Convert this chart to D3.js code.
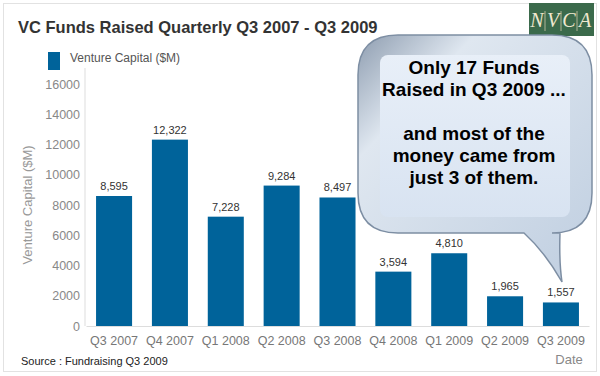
<!DOCTYPE html>
<html>
<head>
<meta charset="utf-8">
<script src="https://cdn.jsdelivr.net/npm/d3@7"></script>
<style>
  body { margin: 0; background: #fff; }
  svg { font-family: "Liberation Sans", Arial, sans-serif; }
</style>
</head>
<body>
<div id="chart"></div>
<script>
// chart data
const quarters = ["Q3 2007", "Q4 2007", "Q1 2008", "Q2 2008", "Q3 2008", "Q4 2008", "Q1 2009", "Q2 2009", "Q3 2009"];
const fundsRaised = [8595, 12322, 7228, 9284, 8497, 3594, 4810, 1965, 1557];
const yTicks = [0, 2000, 4000, 6000, 8000, 10000, 12000, 14000, 16000];
const calloutLines = ["Only 17 Funds", "Raised in Q3 2009 ...", "", "and most of the", "money came from", "just 3 of them."];

const W = 600, H = 376;
const margin = { top: 84, right: 11, bottom: 50, left: 86 };
const width = W - margin.left - margin.right;
const height = H - margin.top - margin.bottom;

const svg = d3.select("#chart").append("svg")
    .attr("width", W)
    .attr("height", H);

const defs = svg.append("defs");

// outer frame
svg.append("rect")
    .attr("x", 3.5).attr("y", 3.5)
    .attr("width", W - 7).attr("height", H - 8)
    .attr("fill", "#fff")
    .attr("stroke", "#e2e2e2");

// title
svg.append("text")
    .attr("x", 18).attr("y", 33)
    .attr("font-size", "16.5px")
    .attr("font-weight", "bold")
    .attr("fill", "#333")
    .text("VC Funds Raised Quarterly Q3 2007 - Q3 2009");

// legend
svg.append("rect")
    .attr("x", 48).attr("y", 52)
    .attr("width", 12).attr("height", 18)
    .attr("fill", "#00639a");
svg.append("text")
    .attr("x", 70).attr("y", 62)
    .attr("font-size", "12px")
    .attr("fill", "#555")
    .text("Venture Capital ($M)");

// NVCA logo
const logo = svg.append("g").attr("transform", "translate(529,3)");
logo.append("rect")
    .attr("width", 65).attr("height", 33)
    .attr("fill", "#3b6a4b");
["N", "V", "C", "A"].forEach((ch, i) => {
    logo.append("text")
        .attr("x", 8 + i * 16).attr("y", 24)
        .attr("text-anchor", "middle")
        .attr("font-family", "'Liberation Serif', serif")
        .attr("font-style", "italic")
        .attr("font-size", "20px")
        .attr("fill", "#efe8cf")
        .text(ch);
    if (i > 0) {
        logo.append("line")
            .attr("x1", i * 16).attr("x2", i * 16)
            .attr("y1", 8).attr("y2", 28)
            .attr("stroke", "#cfc8a8")
            .attr("stroke-width", 0.8);
    }
});

const g = svg.append("g")
    .attr("transform", `translate(${margin.left},${margin.top})`);

// scales
const x = d3.scaleBand()
    .domain(quarters)
    .range([0, width])
    .paddingInner(0.355)
    .paddingOuter(0.18);

const y = d3.scaleLinear()
    .domain([0, 16000])
    .range([height, 0]);

// y axis
const yAxis = g.append("g")
    .call(d3.axisLeft(y).tickValues(yTicks).tickSize(0).tickPadding(6).tickFormat(d3.format("d")));
yAxis.select(".domain").remove();
yAxis.selectAll("text")
    .attr("font-size", "12.5px")
    .attr("fill", "#888")
    .attr("font-family", "'Liberation Sans', Arial, sans-serif");

g.append("line")
    .attr("x1", -1).attr("x2", -1)
    .attr("y1", -16).attr("y2", height)
    .attr("stroke", "#ddd");

// x axis
const xAxis = g.append("g")
    .attr("transform", `translate(0,${height})`)
    .call(d3.axisBottom(x).tickSize(0).tickPadding(10));
xAxis.select(".domain").attr("stroke", "#ddd");
xAxis.selectAll("text")
    .attr("font-size", "12.5px")
    .attr("fill", "#777")
    .attr("font-family", "'Liberation Sans', Arial, sans-serif");

// axis titles
g.append("text")
    .attr("transform", "rotate(-90)")
    .attr("x", -height / 2).attr("y", -54)
    .attr("text-anchor", "middle")
    .attr("font-size", "13px")
    .attr("fill", "#999")
    .text("Venture Capital ($M)");

svg.append("text")
    .attr("x", 569).attr("y", 364)
    .attr("text-anchor", "middle")
    .attr("font-size", "13px")
    .attr("fill", "#888")
    .text("Date");

svg.append("text")
    .attr("x", 21).attr("y", 365)
    .attr("font-size", "11px")
    .attr("fill", "#222")
    .text("Source : Fundraising Q3 2009");

// bars
g.selectAll(".bar")
    .data(fundsRaised)
    .enter()
    .append("rect")
    .attr("class", "bar")
    .attr("x", (d, i) => x(quarters[i]))
    .attr("y", d => y(d))
    .attr("width", x.bandwidth())
    .attr("height", d => height - y(d))
    .attr("fill", "#00639a");

// bar labels
g.selectAll(".bar-label")
    .data(fundsRaised)
    .enter()
    .append("text")
    .attr("class", "bar-label")
    .attr("x", (d, i) => x(quarters[i]) + x.bandwidth() / 2)
    .attr("y", d => y(d) - 6)
    .attr("text-anchor", "middle")
    .attr("font-size", "11px")
    .attr("fill", "#333")
    .text(d => d3.format(",")(d));

// callout bubble
const outerGrad = defs.append("linearGradient")
    .attr("id", "bubbleOuter")
    .attr("x1", 0).attr("y1", 0).attr("x2", 1).attr("y2", 1);
outerGrad.append("stop").attr("offset", "0%").attr("stop-color", "#8e9db0");
outerGrad.append("stop").attr("offset", "25%").attr("stop-color", "#dfe7f0");
outerGrad.append("stop").attr("offset", "100%").attr("stop-color", "#bfcee0");

const innerGrad = defs.append("linearGradient")
    .attr("id", "bubbleInner")
    .attr("x1", 0).attr("y1", 0).attr("x2", 0).attr("y2", 1);
innerGrad.append("stop").attr("offset", "0%").attr("stop-color", "#e8eff8");
innerGrad.append("stop").attr("offset", "100%").attr("stop-color", "#d8e3f1");

const bx0 = 358, bx1 = 592, by0 = 35, by1 = 233, r = 40;
const bubble = d3.path();
bubble.moveTo(bx0 + r, by0);
bubble.lineTo(bx1 - r, by0);
bubble.quadraticCurveTo(bx1, by0, bx1, by0 + r);
bubble.lineTo(bx1, by1 - r);
bubble.quadraticCurveTo(bx1, by1, bx1 - r, by1);
bubble.lineTo(560, by1);
bubble.quadraticCurveTo(559, 262, 562, 282);
bubble.quadraticCurveTo(545, 252, 524, by1);
bubble.lineTo(bx0 + r, by1);
bubble.quadraticCurveTo(bx0, by1, bx0, by1 - r);
bubble.lineTo(bx0, by0 + r);
bubble.quadraticCurveTo(bx0, by0, bx0 + r, by0);
bubble.closePath();

svg.append("path")
    .attr("d", bubble.toString())
    .attr("fill", "url(#bubbleOuter)")
    .attr("stroke", "#7d8ea3")
    .attr("stroke-width", 1.5);

svg.append("rect")
    .attr("x", 380).attr("y", 55)
    .attr("width", 190).attr("height", 162)
    .attr("rx", 8)
    .attr("fill", "url(#bubbleInner)");

svg.append("g")
    .selectAll("text")
    .data(calloutLines)
    .enter()
    .append("text")
    .attr("x", 474)
    .attr("y", (d, i) => 74 + i * 22)
    .attr("text-anchor", "middle")
    .attr("font-size", "19px")
    .attr("font-weight", "bold")
    .attr("fill", "#000")
    .text(d => d);
</script>
</body>
</html>
